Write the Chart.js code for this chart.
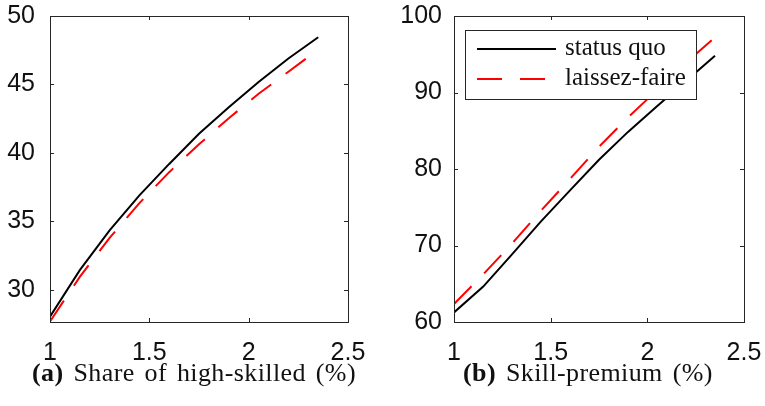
<!DOCTYPE html>
<html>
<head>
<meta charset="utf-8">
<script src="https://cdn.jsdelivr.net/npm/chart.js@4.4.1/dist/chart.umd.min.js"></script>
<style>
  html, body { margin: 0; padding: 0; background: #fff; }
  body { width: 765px; height: 406px; position: relative; overflow: hidden; }
  canvas { position: absolute; top: 0; }
  #chartA { left: 0; }
  #chartB { left: 385px; }
  .caption {
    position: absolute; top: 360px;
    font-family: "Liberation Serif", "DejaVu Serif", serif;
    font-size: 26px; line-height: 26px; white-space: nowrap;
    letter-spacing: 0.4px; word-spacing: 3px; color: #111;
  }
</style>
</head>
<body>
<canvas id="chartA" width="380" height="406"></canvas>
<canvas id="chartB" width="380" height="406"></canvas>
<div class="caption" style="left:32px"><b>(a)</b> Share of high-skilled (%)</div>
<div class="caption" style="left:463px"><b>(b)</b> Skill-premium (%)</div>
<script>
// values
const xValues = [1, 1.15, 1.3, 1.45, 1.6, 1.75, 1.9, 2.05, 2.2, 2.35];
const shareStatusQuo = [28.05, 31.45, 34.35, 36.9, 39.2, 41.4, 43.33, 45.18, 46.9, 48.45];
const shareLaissezFaire = [27.7, 30.95, 33.8, 36.34, 38.6, 40.63, 42.54, 44.32, 45.93, 47.55];
const premiumStatusQuo = [61.25, 64.6, 68.85, 73.15, 77.2, 81.2, 84.85, 88.2, 91.5, 94.8];
const premiumLaissezFaire = [62.35, 66.2, 70.25, 74.55, 78.7, 82.9, 86.75, 90.3, 93.9, 97.2];
const seriesNames = ['status quo', 'laissez-faire'];
const xTicks = [1, 1.5, 2, 2.5];
const shareTicks = [30, 35, 40, 45, 50];
const premiumTicks = [60, 70, 80, 90, 100];

const tickFont = { family: 'Liberation Sans, Arial, Helvetica, sans-serif', size: 25 };
const serifFont = '25px "Liberation Serif", "DejaVu Serif", serif';
const axisColor = '#262626';

// MATLAB style box with inward ticks on all four sides
const axisBox = {
  id: 'axisBox',
  afterDatasetsDraw(chart) {
    const { ctx, chartArea: a, scales } = chart;
    const len = 4;
    ctx.save();
    ctx.strokeStyle = axisColor;
    ctx.lineWidth = 1;
    ctx.beginPath();
    scales.x.ticks.forEach(t => {
      const px = Math.round(scales.x.getPixelForValue(t.value)) + 0.5;
      ctx.moveTo(px, a.bottom); ctx.lineTo(px, a.bottom - len);
      ctx.moveTo(px, a.top); ctx.lineTo(px, a.top + len);
    });
    scales.y.ticks.forEach(t => {
      const py = Math.round(scales.y.getPixelForValue(t.value)) + 0.5;
      ctx.moveTo(a.left, py); ctx.lineTo(a.left + len, py);
      ctx.moveTo(a.right, py); ctx.lineTo(a.right - len, py);
    });
    ctx.stroke();
    ctx.strokeRect(a.left + 0.5, a.top + 0.5, a.right - a.left, a.bottom - a.top);
    ctx.restore();
  }
};

// boxed legend inside the plot area
const boxLegend = {
  id: 'boxLegend',
  afterDraw(chart, args, opts) {
    if (!opts.show) return;
    const { ctx, chartArea: a } = chart;
    const left = a.left + opts.x, top = a.top + opts.y;
    ctx.save();
    ctx.fillStyle = '#fff';
    ctx.fillRect(left, top, opts.width, opts.height);
    ctx.strokeStyle = axisColor;
    ctx.lineWidth = 1;
    ctx.strokeRect(left + 0.5, top + 0.5, opts.width, opts.height);
    ctx.font = serifFont;
    ctx.textBaseline = 'alphabetic';
    chart.data.datasets.forEach((ds, i) => {
      const ly = top + opts.rows[i];
      ctx.strokeStyle = ds.borderColor;
      ctx.lineWidth = ds.borderWidth;
      ctx.setLineDash(ds.borderDash || []);
      ctx.beginPath();
      ctx.moveTo(left + 12, ly);
      ctx.lineTo(left + 91, ly);
      ctx.stroke();
      ctx.setLineDash([]);
      ctx.fillStyle = '#111';
      ctx.fillText(ds.label, left + 100, ly + 6);
    });
    ctx.restore();
  }
};

function toPoints(ys) {
  return xValues.map((x, i) => ({ x: x, y: ys[i] }));
}

function noOverhang(s) {
  s.paddingTop = 0; s.paddingBottom = 0; s.paddingLeft = 0; s.paddingRight = 0;
}

function makeChart(id, quo, faire, yMin, yMax, yTicks, yWidth, yPad, rightPad, legend) {
  return new Chart(document.getElementById(id), {
    type: 'line',
    data: {
      datasets: [
        { label: seriesNames[0], data: toPoints(quo), borderColor: '#000', borderWidth: 2, pointRadius: 0, order: 1 },
        { label: seriesNames[1], data: toPoints(faire), borderColor: '#ff0000', borderWidth: 2, borderDash: [25, 18], pointRadius: 0, order: 0 }
      ]
    },
    options: {
      responsive: false,
      animation: false,
      layout: { padding: { left: 0, top: 16, right: rightPad, bottom: 0 } },
      plugins: {
        legend: { display: false },
        tooltip: { enabled: false },
        boxLegend: legend
      },
      scales: {
        x: {
          type: 'linear', min: 1, max: 2.5,
          afterBuildTicks: s => { s.ticks = xTicks.map(v => ({ value: v })); },
          afterFit: s => { s.height = 84; noOverhang(s); },
          ticks: { font: tickFont, color: '#111', padding: 16, maxRotation: 0, autoSkip: false, callback: v => String(v) },
          grid: { drawOnChartArea: false, drawTicks: false },
          border: { display: false }
        },
        y: {
          type: 'linear', min: yMin, max: yMax,
          afterBuildTicks: s => { s.ticks = yTicks.map(v => ({ value: v })); },
          afterFit: s => { s.width = yWidth; noOverhang(s); },
          ticks: { font: tickFont, color: '#111', padding: yPad, autoSkip: false, callback: v => String(v) },
          grid: { drawOnChartArea: false, drawTicks: false },
          border: { display: false }
        }
      }
    },
    plugins: [axisBox, boxLegend]
  });
}

makeChart('chartA', shareStatusQuo, shareLaissezFaire, 27.66, 50, shareTicks, 50, 15, 32, { show: false });
makeChart('chartB', premiumStatusQuo, premiumLaissezFaire, 60, 100, premiumTicks, 69, 12, 21,
  { show: true, x: 11, y: 14, width: 231, height: 69, rows: [19, 49] });
</script>
</body>
</html>
